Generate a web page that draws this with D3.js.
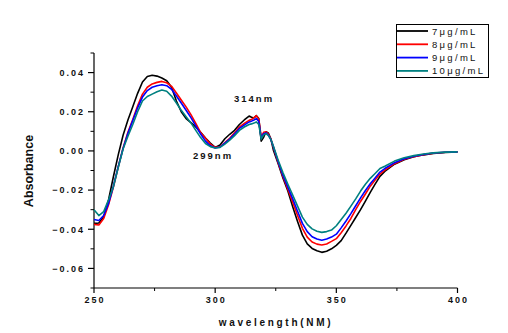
<!DOCTYPE html>
<html><head><meta charset="utf-8">
<script src="https://cdn.jsdelivr.net/npm/d3@7"></script>
<style>
html,body{margin:0;padding:0;background:#fff;}
svg{display:block;font-family:"Liberation Sans",Arial,sans-serif;}
</style></head>
<body>
<svg id="chart" width="508" height="333"></svg>
<script>
const wavelengths = [250,252,254,256,258,260,262,264,266,268,270,272,274,276,278,280,282,284,286,288,290,292,294,296,298,300,302,304,306,308,310,312,314,315,316,317,318,319,320,321,322,323,324,326,328,330,332,334,336,338,340,342,344,346,348,350,352,354,356,358,360,362,364,366,368,370,374,378,382,386,390,395,400];

const conc7 = [-0.0370,-0.0368,-0.0336,-0.0250,-0.0132,-0.0020,0.0080,0.0158,0.0226,0.0294,0.0352,0.0380,0.0386,0.0382,0.0372,0.0358,0.0325,0.0255,0.0200,0.0165,0.0145,0.0122,0.0095,0.0066,0.0040,0.0018,0.0030,0.0062,0.0085,0.0105,0.0135,0.0158,0.0178,0.0172,0.0168,0.0180,0.0165,0.0050,0.0070,0.0098,0.0090,0.0060,0.0005,-0.0065,-0.0140,-0.0205,-0.0285,-0.0360,-0.0430,-0.0475,-0.0498,-0.0510,-0.0518,-0.0512,-0.0500,-0.0482,-0.0458,-0.0420,-0.0380,-0.0340,-0.0300,-0.0256,-0.0212,-0.0170,-0.0130,-0.0105,-0.0068,-0.0045,-0.0030,-0.0020,-0.0013,-0.0008,-0.0005];

const conc8 = [-0.0375,-0.0378,-0.0345,-0.0275,-0.0185,-0.0082,0.0015,0.0095,0.0160,0.0230,0.0290,0.0325,0.0342,0.0350,0.0355,0.0348,0.0330,0.0296,0.0260,0.0225,0.0185,0.0140,0.0094,0.0065,0.0035,0.0018,0.0021,0.0042,0.0064,0.0092,0.0122,0.0140,0.0156,0.0160,0.0170,0.0180,0.0162,0.0070,0.0095,0.0098,0.0085,0.0060,0.0020,-0.0060,-0.0132,-0.0195,-0.0262,-0.0330,-0.0395,-0.0440,-0.0465,-0.0476,-0.0480,-0.0475,-0.0462,-0.0448,-0.0418,-0.0383,-0.0345,-0.0300,-0.0258,-0.0220,-0.0180,-0.0148,-0.0118,-0.0098,-0.0065,-0.0043,-0.0029,-0.0019,-0.0012,-0.0007,-0.0005];

const conc9 = [-0.0350,-0.0355,-0.0330,-0.0268,-0.0180,-0.0080,0.0012,0.0090,0.0155,0.0220,0.0275,0.0308,0.0325,0.0333,0.0338,0.0333,0.0315,0.0280,0.0245,0.0208,0.0170,0.0128,0.0086,0.0050,0.0026,0.0015,0.0020,0.0040,0.0060,0.0086,0.0115,0.0132,0.0148,0.0152,0.0158,0.0165,0.0150,0.0065,0.0088,0.0092,0.0080,0.0058,0.0022,-0.0055,-0.0125,-0.0185,-0.0245,-0.0308,-0.0370,-0.0412,-0.0438,-0.0450,-0.0456,-0.0450,-0.0440,-0.0425,-0.0393,-0.0358,-0.0320,-0.0280,-0.0240,-0.0202,-0.0168,-0.0138,-0.0108,-0.0090,-0.0060,-0.0040,-0.0027,-0.0018,-0.0011,-0.0007,-0.0005];

const conc10 = [-0.0300,-0.0330,-0.0310,-0.0250,-0.0183,-0.0085,0.0010,0.0075,0.0135,0.0200,0.0255,0.0278,0.0290,0.0302,0.0311,0.0305,0.0280,0.0245,0.0208,0.0175,0.0143,0.0105,0.0068,0.0038,0.0022,0.0015,0.0018,0.0035,0.0055,0.0078,0.0105,0.0122,0.0135,0.0138,0.0142,0.0148,0.0135,0.0060,0.0082,0.0088,0.0078,0.0058,0.0025,-0.0048,-0.0112,-0.0170,-0.0225,-0.0282,-0.0338,-0.0375,-0.0398,-0.0410,-0.0416,-0.0412,-0.0404,-0.0382,-0.0350,-0.0318,-0.0282,-0.0245,-0.0205,-0.0170,-0.0140,-0.0115,-0.0090,-0.0078,-0.0052,-0.0035,-0.0024,-0.0016,-0.0010,-0.0006,-0.0005];

const seriesNames = ["7μg/mL","8μg/mL","9μg/mL","10μg/mL"];
const seriesColors = ["#000000","#ff0000","#0000ff","#008080"];
const seriesValues = [conc7, conc8, conc9, conc10];

const xTicks = [250,300,350,400];
const xMinorTicks = [275,325,375];
const yTicks = [-0.06,-0.04,-0.02,0.00,0.02,0.04];
const yMinorTicks = [-0.07,-0.05,-0.03,-0.01,0.01,0.03,0.05];
const annotations = [{text:"314nm", nm:314, a:0.0190}, {text:"299nm", nm:299, a:-0.0005}];

const svg = d3.select("#chart");
const x = d3.scaleLinear().domain([250,400]).range([94,457.5]);
const y = d3.scaleLinear().domain([-0.07,0.05]).range([288,53]);

// axes
const xAxis = svg.append("g").attr("transform","translate(0,288)");
xAxis.append("line").attr("x1",x(250)).attr("x2",x(400)).attr("stroke","#000").attr("stroke-width",1.2);
xAxis.selectAll(".xt").data(xTicks).enter().append("line")
  .attr("x1",d=>x(d)).attr("x2",d=>x(d)).attr("y1",0).attr("y2",5).attr("stroke","#000").attr("stroke-width",1.2);
xAxis.selectAll(".xm").data(xMinorTicks).enter().append("line")
  .attr("x1",d=>x(d)).attr("x2",d=>x(d)).attr("y1",0).attr("y2",3).attr("stroke","#000").attr("stroke-width",1);
xAxis.selectAll(".xl").data(xTicks).enter().append("text")
  .attr("x",d=>x(d)+1).attr("y",15).attr("text-anchor","middle")
  .style("font-size","9px").style("font-weight","bold").style("letter-spacing","2px").attr("fill","#111")
  .text(d=>d);

const yAxis = svg.append("g").attr("transform","translate(94,0)");
yAxis.append("line").attr("y1",y(-0.07)).attr("y2",y(0.05)).attr("stroke","#000").attr("stroke-width",1.2);
yAxis.selectAll(".yt").data(yTicks).enter().append("line")
  .attr("y1",d=>y(d)).attr("y2",d=>y(d)).attr("x1",0).attr("x2",-6).attr("stroke","#000").attr("stroke-width",1.2);
yAxis.selectAll(".ym").data(yMinorTicks).enter().append("line")
  .attr("y1",d=>y(d)).attr("y2",d=>y(d)).attr("x1",0).attr("x2",-3.5).attr("stroke","#000").attr("stroke-width",1);
yAxis.selectAll(".yl").data(yTicks).enter().append("text")
  .attr("x",-9).attr("y",d=>y(d)+3.3).attr("text-anchor","end")
  .style("font-size","9px").style("font-weight","bold").style("letter-spacing","2px").attr("fill","#111")
  .text(d=>d3.format(".2f")(d));

// axis titles
svg.append("text").attr("transform","translate(33,171) rotate(-90)").attr("text-anchor","middle")
  .style("font-size","12.5px").style("font-weight","bold").attr("fill","#111").text("Absorbance");
svg.append("text").attr("x",276).attr("y",326).attr("text-anchor","middle")
  .style("font-size","10px").style("font-weight","bold").style("letter-spacing","2.7px").attr("fill","#111")
  .text("wavelength(NM)");

// lines
const line = d3.line().x((d,i)=>x(wavelengths[i])).y(d=>y(d));
seriesValues.forEach((vals,k)=>{
  svg.append("path").datum(vals).attr("d",line).attr("fill","none")
    .attr("stroke",seriesColors[k]).attr("stroke-width",1.6).attr("stroke-linejoin","round");
});

// annotations
svg.append("text").attr("x",234).attr("y",102).style("font-size","9.5px").style("font-weight","bold")
  .style("letter-spacing","2px").attr("fill","#111").text(annotations[0].text);
svg.append("text").attr("x",193).attr("y",159).style("font-size","9.5px").style("font-weight","bold")
  .style("letter-spacing","2px").attr("fill","#111").text(annotations[1].text);

// legend
const lg = svg.append("g");
lg.append("rect").attr("x",396.5).attr("y",24.5).attr("width",92).attr("height",53)
  .attr("fill","#fff").attr("stroke","#000").attr("stroke-width",1);
seriesNames.forEach((n,k)=>{
  const yy = 31 + k*13.3;
  lg.append("line").attr("x1",397).attr("x2",428).attr("y1",yy).attr("y2",yy)
    .attr("stroke",seriesColors[k]).attr("stroke-width",1.8);
  lg.append("text").attr("x",432).attr("y",yy+3.5).style("font-size","9.5px")
    .style("letter-spacing","2.3px").attr("fill","#111").text(n);
});
</script>
</body></html>
